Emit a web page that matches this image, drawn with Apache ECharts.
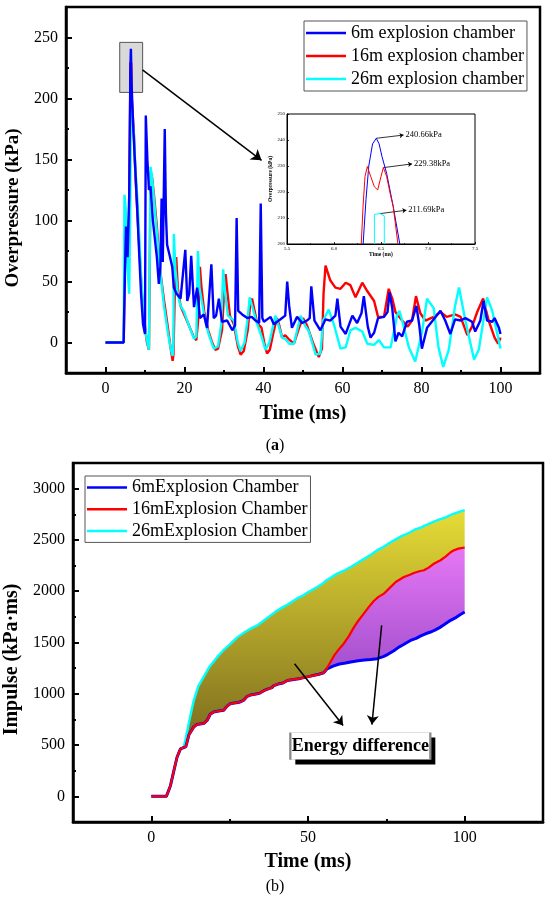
<!DOCTYPE html>
<html>
<head>
<meta charset="utf-8">
<script src="https://cdn.jsdelivr.net/npm/echarts@6/dist/echarts.min.js"></script>
<style>
  html, body { margin: 0; padding: 0; background: #fff; }
  #main { width: 550px; height: 904px; }
</style>
</head>
<body>
<div id="main"></div>
<script>
// ---- (a) overpressure, [time ms, kPa] ----
var press6 = [[0,0],[4.6,0],[4.9,55],[5.2,95],[5.6,70],[6.0,120],[6.3,225],[6.43,240.66],[6.6,212],[7.0,178],[7.5,145],[8.0,112],[8.5,75],[9.0,40],[9.5,15],[10.0,7],[10.2,186],[10.6,150],[11.0,125],[11.4,128],[12.0,100],[12.5,85],[13.0,70],[13.5,48],[13.9,62],[14.2,118],[14.5,66],[15.0,175],[15.3,105],[15.6,80],[16.2,72],[16.9,62],[17.3,45],[18.0,40],[19.0,36],[20.2,76],[20.7,34],[21.2,40],[21.7,71],[22.4,29],[23.2,45],[23.9,20],[24.9,23],[25.7,12],[26.8,64],[27.4,20],[28.0,22],[28.7,36],[29.5,17],[30.8,18],[32.1,10],[32.8,14],[33.2,102],[33.6,26],[34.6,23],[35.9,20],[37.0,21],[38.0,18],[38.9,16],[39.3,114],[39.7,20],[40.1,17],[41.8,21],[42.6,15],[44.3,19],[45.5,22],[46.0,50],[46.5,30],[47.2,12],[48.5,21],[49.8,16],[51.0,18],[51.7,20],[52.1,46],[52.9,18],[54.4,10],[55.7,19],[56.9,18],[58.2,22],[58.7,36],[59.5,13],[60.8,7],[62.5,22],[63.7,16],[64.8,24],[65.4,38],[66.4,13],[67.1,4],[68.0,8],[69.0,20],[70.5,21],[71.4,25],[71.9,41],[72.6,28],[73.4,1],[74.2,8],[75.1,5],[76.3,17],[77.6,18],[78.7,30],[79.4,15],[80.1,-5],[81.4,12],[83.1,19],[84.8,26],[86.0,18],[87.3,7],[88.5,19],[89.9,18],[91.1,20],[92.8,17],[93.6,9],[94.9,18],[95.7,34],[96.6,18],[97.9,17],[98.5,20],[99.6,12],[100,7]];
var press16 = [[0,0],[4.6,0],[4.9,60],[5.2,100],[5.6,65],[6.0,110],[6.25,200],[6.3,229.8],[6.39,221],[6.5,229.38],[6.65,200],[7.2,170],[7.6,135],[8.0,110],[8.6,75],[9.2,40],[9.8,18],[10.5,0],[11.0,-6],[11.2,60],[11.4,140],[11.8,135],[12.3,120],[13.0,95],[13.8,60],[14.8,35],[15.8,12],[16.5,-5],[17.0,-15],[17.2,-10],[17.6,50],[17.9,70],[18.3,45],[19.0,30],[19.8,24],[21.0,15],[22.4,4],[23.0,2],[23.5,20],[23.9,62],[24.3,45],[25.0,25],[26.0,10],[27.0,0],[27.8,-6],[28.5,-5],[29.5,10],[30.0,40],[30.4,56],[30.9,40],[31.5,22],[32.5,15],[33.5,-3],[34.2,-10],[35.0,-7],[36.0,10],[36.6,30],[37.1,36],[37.6,28],[38.4,16],[39.5,12],[40.3,-2],[40.9,-9],[41.6,-6],[42.5,8],[43.4,20],[44.0,14],[44.7,4],[45.5,6],[46.3,3],[47.7,-1],[49.0,12],[50.0,20],[51.0,14],[52.5,0],[54.0,-12],[54.8,-5],[55.2,40],[55.7,63],[56.9,51],[58.2,45],[59.5,44],[60.8,49],[62.0,47],[63.3,37],[65.0,49],[66.3,42],[68.0,34],[69.0,21],[70.5,21],[71.7,44],[72.6,36],[73.4,25],[75.1,18],[76.5,13],[77.6,18],[78.6,38],[79.7,24],[81.0,18],[83.1,21],[84.8,25],[86.4,21],[88.5,23],[89.9,21],[91.6,6],[92.8,13],[94.1,25],[95.6,36],[97.0,18],[98.5,4],[99.4,-1],[100,4]];
var press26 = [[0,0],[4.6,0],[4.8,121],[5.1,110],[5.6,60],[6.0,40],[6.3,120],[6.38,200],[6.4,211.5],[6.45,211.69],[6.5,211],[6.52,200],[6.8,185],[7.2,170],[7.6,140],[8.0,122],[8.5,90],[9.0,55],[9.6,25],[10.3,5],[11.0,-6],[11.2,70],[11.4,144],[11.7,138],[12.2,120],[13.0,90],[13.8,60],[14.8,30],[15.8,8],[16.5,-5],[17.0,-11],[17.2,0],[17.3,89],[17.7,60],[18.3,40],[19.0,30],[19.8,26],[21.0,15],[22.4,3],[23.0,5],[23.4,75],[23.8,45],[25.0,22],[26.0,8],[27.4,-5],[28.5,-3],[29.3,15],[29.8,60],[30.3,40],[31.0,22],[32.5,18],[33.5,0],[34.2,-7],[35.2,0],[36.0,20],[36.5,37],[37.1,30],[38.4,15],[39.5,5],[40.5,-6],[41.5,0],[43.0,22],[43.8,14],[44.7,4],[45.5,3],[46.5,-1],[47.7,-1],[49.4,22],[50.5,14],[51.5,9],[53.2,-10],[54.4,-9],[55.1,18],[56.5,27],[57.8,15],[59.5,-5],[60.8,-4],[62.0,10],[63.3,12],[65.0,9],[66.3,-1],[68.0,-2],[69.2,2],[70.5,-4],[72.2,-4],[73.8,22],[74.4,26],[75.1,18],[76.8,-4],[78.4,-15.6],[80.1,8],[81.4,36],[83.1,28],[84.3,-4],[85.5,-20],[86.9,-6],[88.5,30],[89.5,45],[91.1,18],[93.3,-14],[94.5,-6],[96.6,37],[97.9,26],[100,-5]];

// zoomed peak (inset)
var peak6 = [[6.31,200],[6.34,217],[6.37,230],[6.41,238.5],[6.45,240.66],[6.48,238.5],[6.51,233.7],[6.56,227.2],[6.63,214.4],[6.70,200]];
var peak16 = [[6.29,200],[6.31,215],[6.33,226],[6.355,229.8],[6.39,226],[6.43,222],[6.465,220.8],[6.5,226],[6.525,229.38],[6.56,226],[6.6,219],[6.63,214.4],[6.68,200]];
var peak26 = [[6.43,200],[6.43,211.4],[6.49,211.69],[6.535,210.8],[6.535,200]];
var peakNotes = ['240.66kPa', '229.38kPa', '211.69kPa'];

// ---- (b) impulse, [time ms, kPa·ms] ----
var impRise = [[0,0],[4.8,0],[6.1,104],[7.2,251],[8.2,381],[9.3,463],[10.3,476]];
var impMid = [[11.0,482],[12.0,600],[13.5,675],[14.5,700],[15.6,706],[16.8,712],[17.8,740],[18.8,800],[19.9,822],[21.5,832],[23.1,840],[24.2,880],[25.2,902],[26.5,910],[27.7,915],[28.7,925],[29.5,938],[30.6,975],[31.6,988],[33.0,995],[34.5,1005],[35.9,1030],[37.5,1050],[38.5,1060],[39.1,1080],[40.5,1095],[42.0,1105],[43.4,1130],[45.5,1140],[46.5,1145],[47.6,1150],[49.0,1160],[50.5,1170],[52.0,1180],[53.5,1190],[55.0,1205]];
var imp6Tail = [[56.1,1244],[58.0,1270],[60.0,1290],[62.0,1300],[63.6,1310],[66.0,1322],[68.0,1330],[70.0,1335],[72.1,1342],[74.0,1362],[75.5,1385],[77.4,1420],[79.0,1455],[80.5,1480],[82.7,1520],[84.5,1540],[86.0,1565],[87.5,1585],[89.1,1602],[90.5,1620],[92.0,1645],[93.5,1675],[95.5,1716],[97.0,1740],[98.5,1770],[100,1797]];
var imp16Tail = [[55.6,1227],[57.0,1300],[58.5,1380],[60.0,1440],[61.4,1488],[63.0,1560],[64.5,1640],[66.0,1710],[67.8,1781],[69.5,1850],[71.0,1905],[72.5,1945],[74.2,1976],[76.0,2030],[78.0,2090],[80.6,2139],[82.5,2160],[84.0,2180],[85.5,2195],[87.0,2204],[88.5,2230],[90.0,2265],[92.3,2302],[94.0,2340],[95.5,2380],[96.6,2400],[98.0,2415],[100,2426]];
var imp26Tail = [[11.0,570],[12.0,720],[13.5,930],[15.0,1075],[16.7,1165],[18.5,1260],[21.0,1357],[23.0,1425],[25.0,1480],[27.4,1550],[30.0,1605],[32.0,1640],[33.8,1667],[35.5,1705],[37.0,1740],[40.2,1812],[42.0,1845],[43.5,1870],[46.5,1930],[48.5,1960],[50.0,1990],[52.9,2041],[54.5,2070],[56.0,2110],[57.5,2135],[59.3,2172],[61.5,2200],[63.6,2236],[65.5,2270],[67.0,2300],[69.0,2335],[70.5,2365],[72.1,2400],[74.0,2430],[76.0,2470],[78.0,2505],[80.0,2540],[82.0,2565],[84.0,2600],[86.0,2620],[88.0,2650],[90.0,2675],[92.0,2700],[94.0,2720],[96.0,2750],[98.0,2770],[100,2790]];

var imp6 = impRise.concat(impMid, imp6Tail);
var imp16 = impRise.concat(impMid, imp16Tail);
var imp26 = impRise.concat(imp26Tail);

// tick labels
var ticksTimeA = [0, 20, 40, 60, 80, 100];
var minorTimeA = [10, 30, 50, 70, 90];
var ticksPress = [0, 50, 100, 150, 200, 250];
var minorPress = [25, 75, 125, 175, 225];
var ticksTimeB = [0, 50, 100];
var minorTimeB = [25, 75];
var ticksImp = [0, 500, 1000, 1500, 2000, 2500, 3000];
var minorImp = [250, 750, 1250, 1750, 2250, 2750];

var namesA = ['6m explosion chamber', '16m explosion chamber', '26m explosion chamber'];
var namesB = ['6mExplosion Chamber', '16mExplosion Chamber', '26mExplosion Chamber'];

var serif = 'Liberation Serif';
var BLUE = '#0000ff', RED = '#ff0000', CYAN = '#00ffff';

var chart = echarts.init(document.getElementById('main'));

function plain(v) { return String(v); }

function mainAxis(grid, pos, min, max, ticks, name, gap, extra) {
  var a = {
    type: 'value', gridIndex: grid, position: pos, min: min, max: max,
    axisLine: { show: true, onZero: false, lineStyle: { color: '#000', width: 2.5 } },
    axisTick: { show: true, inside: true, length: 6, customValues: ticks, lineStyle: { color: '#000', width: 2 } },
    axisLabel: { customValues: ticks, formatter: plain, color: '#000', fontFamily: serif, fontSize: 16, margin: 8 },
    splitLine: { show: false },
    name: name, nameLocation: 'middle', nameGap: gap,
    nameTextStyle: { color: '#000', fontFamily: serif, fontWeight: 'bold', fontSize: 20 }
  };
  return Object.assign(a, extra || {});
}
function minorAxis(grid, pos, min, max, ticks) {
  return {
    type: 'value', gridIndex: grid, position: pos, min: min, max: max,
    axisLine: { show: false, onZero: false },
    axisTick: { show: true, inside: true, length: 3, customValues: ticks, lineStyle: { color: '#000', width: 2 } },
    axisLabel: { show: false },
    splitLine: { show: false }
  };
}
function insetAxis(pos, min, max, interval, name, gap, fmt) {
  return {
    type: 'value', gridIndex: 2, position: pos, min: min, max: max, interval: interval,
    axisLine: { show: true, onZero: false, lineStyle: { color: '#000', width: 1 } },
    axisTick: { inside: true, length: 2, lineStyle: { color: '#000', width: 0.8 } },
    minorTick: { show: true, splitNumber: 2, length: 1, lineStyle: { color: '#000', width: 0.6 } },
    axisLabel: { color: '#000', fontFamily: serif, fontSize: 5, margin: 2, formatter: fmt || plain },
    splitLine: { show: false },
    name: name, nameLocation: 'middle', nameGap: gap,
    nameTextStyle: { color: '#000', fontFamily: serif, fontWeight: 'bold', fontSize: 5.5 }
  };
}
function line(name, data, color, x, width, z) {
  return {
    name: name, type: 'line', data: data, xAxisIndex: x, yAxisIndex: x,
    showSymbol: false, symbol: 'none', z: z || 2,
    lineStyle: { color: color, width: width }, itemStyle: { color: color },
    emphasis: { disabled: true }
  };
}
function band(upper, lower, from, stops) {
  return function (params, api) {
    var pts = [];
    upper.forEach(function (d) { if (d[0] >= from) pts.push(api.coord(d)); });
    lower.slice().reverse().forEach(function (d) { if (d[0] >= from) pts.push(api.coord(d)); });
    return {
      type: 'polygon', shape: { points: pts },
      style: { fill: new echarts.graphic.LinearGradient(0, 0, 0, 1, stops) }
    };
  };
}
function legendAt(names, left, top, lh, gap) {
  return {
    data: names, orient: 'vertical', left: left, top: top,
    icon: 'rect', itemWidth: 40, itemHeight: 2.5, itemGap: gap,
    padding: [2, 3, 2, 2], borderColor: '#555', borderWidth: 1, borderRadius: 0,
    selectedMode: false,
    textStyle: { color: '#000', fontFamily: serif, fontSize: 18, lineHeight: lh }
  };
}
function gridAt(left, top, width, height, shown, bw) {
  return {
    left: left, top: top, width: width, height: height, outerBoundsMode: 'none', containLabel: false,
    show: shown, borderColor: '#000', borderWidth: bw, backgroundColor: bw === 1 ? '#fff' : 'transparent'
  };
}
var arrowLine = { color: '#000', width: 1.5, type: 'solid' };
var captionStyle = {
  color: '#000', fontFamily: serif, fontSize: 16, fontWeight: 'normal',
  rich: { b: { color: '#000', fontFamily: serif, fontSize: 16, fontWeight: 'bold' } }
};

var option = {
  animation: false,
  backgroundColor: '#fff',
  title: [
    { text: '({b|a})', left: 'center', top: 438, padding: 0, textStyle: captionStyle },
    { text: '(b)', left: 'center', top: 879, padding: 0, textStyle: captionStyle }
  ],
  grid: [
    gridAt(66, 7, 474, 366, true, 2.5),
    gridAt(66, 7, 474, 366, false, 0),
    gridAt(287, 114, 188, 130, true, 1),
    gridAt(73, 463, 470, 359, true, 2.5),
    gridAt(73, 463, 470, 359, false, 0)
  ],
  xAxis: [
    mainAxis(0, 'bottom', -10, 110, ticksTimeA, 'Time (ms)', 31),
    minorAxis(1, 'bottom', -10, 110, minorTimeA),
    insetAxis('bottom', 5.5, 7.5, 0.5, 'Time (ms)', 8, function (v) { return v.toFixed(1); }),
    mainAxis(3, 'bottom', -25, 125, ticksTimeB, 'Time (ms)', 30),
    minorAxis(4, 'bottom', -25, 125, minorTimeB)
  ],
  yAxis: [
    mainAxis(0, 'left', -25, 275, ticksPress, 'Overpressure (kPa)', 43, {
      nameTextStyle: { color: '#000', fontFamily: serif, fontWeight: 'bold', fontSize: 19, padding: [0, 36, 0, 0] }
    }),
    minorAxis(1, 'left', -25, 275, minorPress),
    insetAxis('left', 200, 250, 10, 'Overpressure (kPa)', 10),
    mainAxis(3, 'left', -250, 3250, ticksImp, 'Impulse (kPa\u00b7ms)', 51, {
      nameTextStyle: { color: '#000', fontFamily: serif, fontWeight: 'bold', fontSize: 20, padding: [0, 34, 0, 0] }
    }),
    minorAxis(4, 'left', -250, 3250, minorImp)
  ],
  legend: [
    legendAt(namesA, 304, 21, 20, 3),
    legendAt(namesB, 85, 476, 19, 2.7)
  ],
  series: [
    // (a) zoom box and pointer
    {
      name: 'zoom box', type: 'line', data: [], xAxisIndex: 0, yAxisIndex: 0, z: 1, silent: true,
      markArea: {
        silent: true,
        itemStyle: { color: '#d9d9d9', borderColor: '#555', borderWidth: 1 },
        data: [[{ coord: [3.6, 246] }, { coord: [9.4, 205] }]]
      },
      markLine: {
        silent: true, symbol: ['none', 'arrow'], symbolSize: 10,
        lineStyle: arrowLine, label: { show: false },
        data: [[{ coord: [9.37, 223.5] }, { coord: [39.5, 149.3] }]]
      }
    },
    line(namesA[1], press16, RED, 0, 2.4),
    line(namesA[2], press26, CYAN, 0, 2.4),
    line(namesA[0], press6, BLUE, 0, 2.4),
    // inset
    line('inset 6m', peak6, BLUE, 2, 1, 6),
    line('inset 16m', peak16, RED, 2, 1, 6),
    line('inset 26m', peak26, CYAN, 2, 1, 6),
    {
      name: 'inset notes', type: 'line', data: [], xAxisIndex: 2, yAxisIndex: 2, z: 7, silent: true,
      markLine: {
        silent: true, symbol: ['none', 'arrow'], symbolSize: 4,
        lineStyle: { color: '#000', width: 0.8, type: 'solid' },
        label: { show: true, position: 'end', formatter: '{b}', distance: 2, color: '#000', fontFamily: serif, fontSize: 8.5 },
        data: [
          [{ name: peakNotes[0], coord: [6.45, 240.66] }, { coord: [6.74, 241.9] }],
          [{ name: peakNotes[1], coord: [6.525, 229.38] }, { coord: [6.83, 230.8] }],
          [{ name: peakNotes[2], coord: [6.49, 211.69] }, { coord: [6.77, 213] }]
        ]
      }
    },
    // (b) energy difference areas
    {
      name: 'gap 26-16', type: 'custom', xAxisIndex: 3, yAxisIndex: 3, z: 1, silent: true, data: [0],
      renderItem: band(imp26, imp16, 10.3, [{ offset: 0, color: '#e6dc36' }, { offset: 1, color: '#7a691d' }])
    },
    {
      name: 'gap 16-6', type: 'custom', xAxisIndex: 3, yAxisIndex: 3, z: 1, silent: true, data: [0],
      renderItem: band(imp16, imp6, 55, [{ offset: 0, color: '#e677f4' }, { offset: 1, color: '#a24fce' }])
    },
    line(namesB[2], imp26, CYAN, 3, 2.4),
    line(namesB[0], imp6, BLUE, 3, 3),
    line(namesB[1], imp16, RED, 3, 2.2),
    {
      name: 'energy arrows', type: 'line', data: [], xAxisIndex: 3, yAxisIndex: 3, z: 4, silent: true,
      markLine: {
        silent: true, symbol: ['none', 'arrow'], symbolSize: 9,
        lineStyle: arrowLine, label: { show: false },
        data: [
          [{ coord: [45.7, 1293] }, { coord: [61.2, 690] }],
          [{ coord: [73.5, 1667] }, { coord: [70.4, 700] }]
        ]
      },
      markPoint: {
        silent: true, symbol: 'rect', symbolSize: [140, 27],
        data: [
          { coord: [66.7, 490], symbolOffset: [5, 5], itemStyle: { color: '#000' }, label: { show: false } },
          { coord: [66.7, 490], itemStyle: { color: '#fff', borderColor: '#888', borderWidth: 1 },
            label: { show: true, position: 'inside', formatter: 'Energy difference', color: '#000', fontFamily: serif, fontWeight: 'bold', fontSize: 18 } }
        ]
      }
    }
  ]
};
chart.setOption(option);
</script>
</body>
</html>
